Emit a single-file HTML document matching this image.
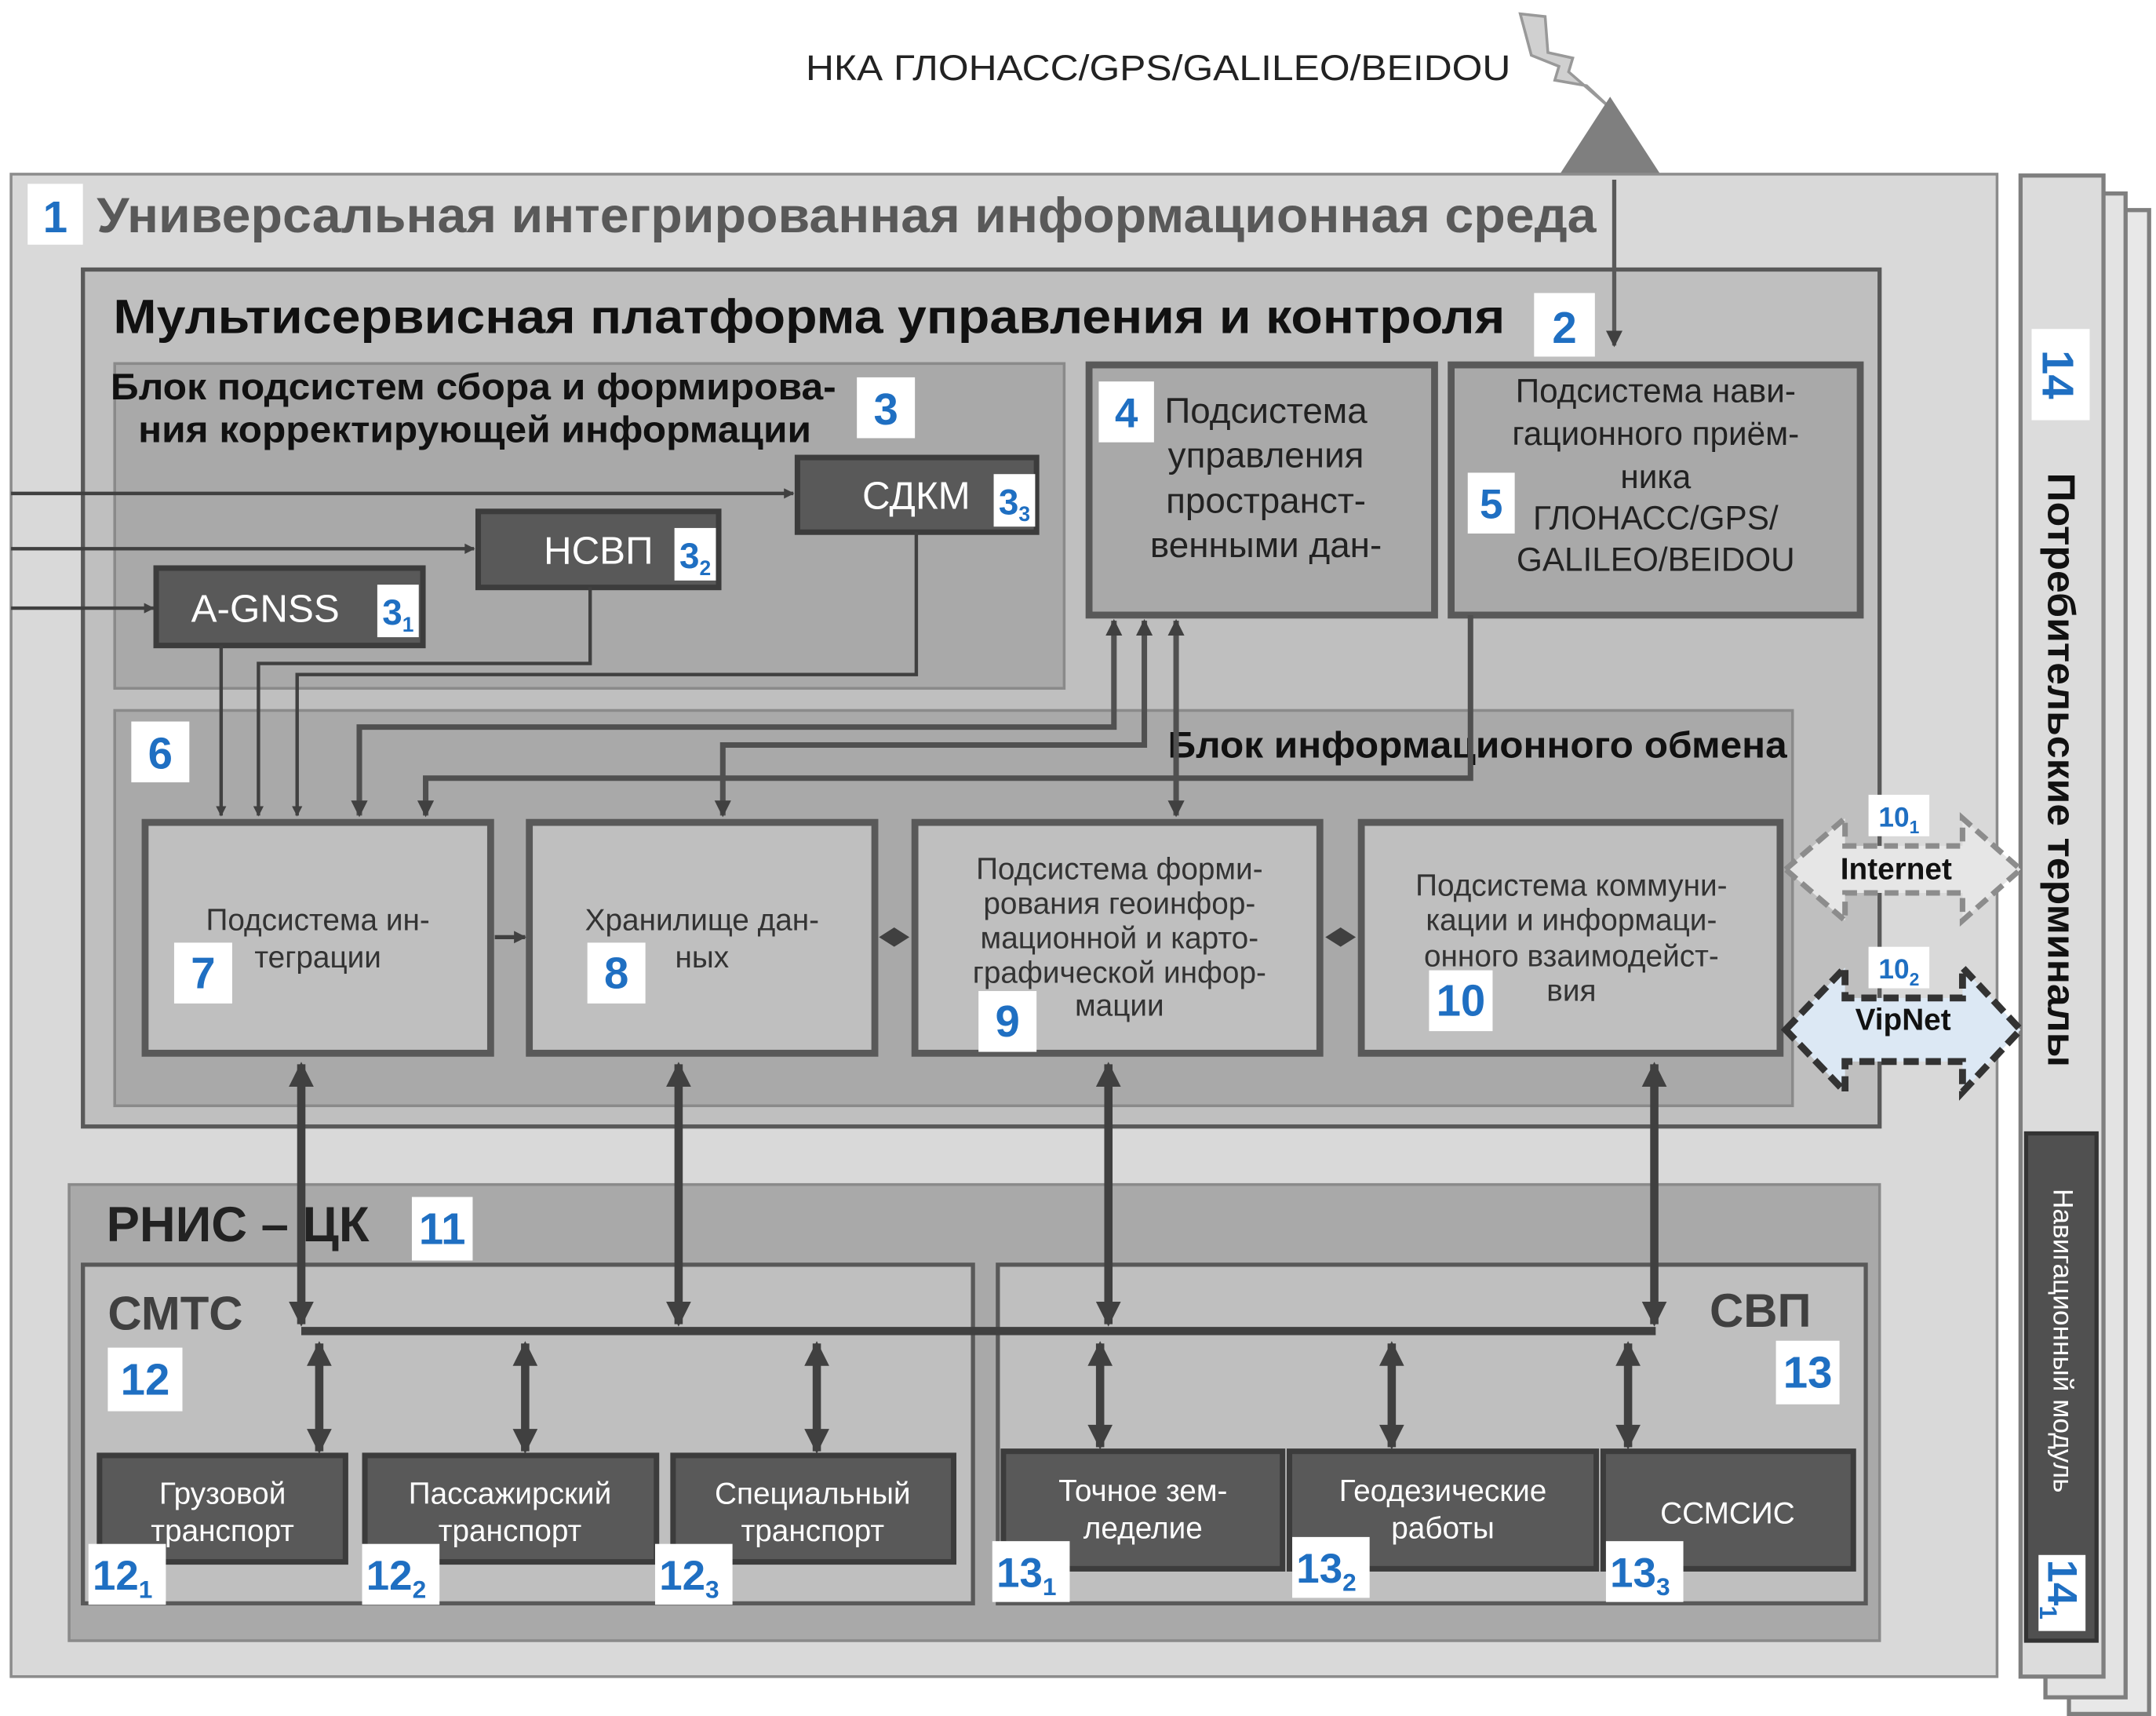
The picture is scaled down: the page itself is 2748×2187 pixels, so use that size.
<!DOCTYPE html>
<html><head><meta charset="utf-8"><style>
html,body{margin:0;padding:0;background:#fff;}
svg{display:block;}
text{font-family:"Liberation Sans","DejaVu Sans",sans-serif;}
</style></head><body>
<svg width="2748" height="2187" viewBox="0 0 1560 1241.5" preserveAspectRatio="none" xmlns="http://www.w3.org/2000/svg">
<defs>
<marker id="a" viewBox="0 0 10 10" refX="9" refY="5" markerWidth="4" markerHeight="5" orient="auto-start-reverse" markerUnits="strokeWidth"><path d="M0,0 L10,5 L0,10 z" fill="#404040"/></marker>
<marker id="b" viewBox="0 0 10 10" refX="9" refY="5" markerWidth="3.2" markerHeight="3" orient="auto-start-reverse" markerUnits="strokeWidth"><path d="M0,0 L10,5 L0,10 z" fill="#404040"/></marker>
</defs>
<!-- right stacked panels -->
<rect x="1497" y="152" width="58" height="1088" fill="#e8e8e8" stroke="#7f7f7f" stroke-width="3"/>
<rect x="1480" y="140" width="58" height="1088" fill="#e3e3e3" stroke="#7f7f7f" stroke-width="3"/>
<rect x="1462" y="127" width="60" height="1086" fill="#dcdcdc" stroke="#7f7f7f" stroke-width="3"/>
<rect x="1470" y="238" width="42" height="66" fill="#fff"/>
<text transform="translate(1478,271) rotate(90)" font-size="32" font-weight="bold" fill="#1f6fc2" text-anchor="middle">14</text>
<text transform="translate(1482,557) rotate(90)" font-size="28" font-weight="bold" fill="#111" text-anchor="middle" textLength="430" lengthAdjust="spacingAndGlyphs">Потребительские терминалы</text>
<rect x="1466" y="820" width="51" height="367" fill="#505050" stroke="#333" stroke-width="3"/>
<text transform="translate(1486,970) rotate(90)" font-size="20" fill="#fff" text-anchor="middle">Навигационный модуль</text>
<rect x="1475" y="1125" width="34" height="55" fill="#fff"/>
<text transform="translate(1482,1150) rotate(90)" font-size="30" font-weight="bold" fill="#1f6fc2" text-anchor="middle">14<tspan font-size="18" dy="6">1</tspan></text>

<!-- satellite -->
<text x="583" y="58" font-size="26" fill="#222" textLength="510" lengthAdjust="spacingAndGlyphs">НКА ГЛОНАСС/GPS/GALILEO/BEIDOU</text>
<polygon points="1100,10 1118,12 1120,38 1138,42 1135,52 1165,78 1148,62 1125,58 1128,48 1108,40" fill="#d0d0d0" stroke="#999" stroke-width="2"/>
<polygon points="1128,127 1165,70 1202,127" fill="#7f7f7f"/>

<!-- outer box 1 -->
<rect x="8" y="126" width="1437" height="1087" fill="#d9d9d9" stroke="#8c8c8c" stroke-width="2"/>
<rect x="20" y="133" width="40" height="44" fill="#fff"/>
<text x="40" y="168" font-size="32" font-weight="bold" fill="#1f6fc2" text-anchor="middle">1</text>
<text x="70" y="168" font-size="36" font-weight="bold" fill="#595959" textLength="1085" lengthAdjust="spacingAndGlyphs">Универсальная интегрированная информационная среда</text>

<!-- platform 2 -->
<rect x="60" y="195" width="1300" height="620" fill="#bfbfbf" stroke="#595959" stroke-width="3"/>
<text x="82" y="241" font-size="35" font-weight="bold" fill="#111" textLength="1007" lengthAdjust="spacingAndGlyphs">Мультисервисная платформа управления и контроля</text>
<rect x="1110" y="212" width="44" height="46" fill="#fff"/>
<text x="1132" y="248" font-size="32" font-weight="bold" fill="#1f6fc2" text-anchor="middle">2</text>
<line x1="1168" y1="130" x2="1168" y2="250" stroke="#595959" stroke-width="3" marker-end="url(#a)"/>

<!-- block 3 -->
<rect x="83" y="263" width="687" height="235" fill="#a9a9a9" stroke="#8a8a8a" stroke-width="2"/>
<text x="80" y="289" font-size="27" font-weight="bold" fill="#111" textLength="525" lengthAdjust="spacingAndGlyphs">Блок подсистем сбора и формирова-</text>
<text x="100" y="320" font-size="27" font-weight="bold" fill="#111" textLength="487" lengthAdjust="spacingAndGlyphs">ния корректирующей информации</text>
<rect x="620" y="273" width="42" height="44" fill="#fff"/>
<text x="641" y="307" font-size="32" font-weight="bold" fill="#1f6fc2" text-anchor="middle">3</text>

<!-- left inputs -->
<line x1="8" y1="357" x2="574" y2="357" stroke="#404040" stroke-width="2.5" marker-end="url(#b)"/>
<line x1="8" y1="397" x2="343" y2="397" stroke="#404040" stroke-width="2.5" marker-end="url(#b)"/>
<line x1="8" y1="440" x2="111" y2="440" stroke="#404040" stroke-width="2.5" marker-end="url(#b)"/>

<!-- SDKM, NSVP, AGNSS -->
<rect x="577" y="331" width="173" height="54" fill="#595959" stroke="#3c3c3c" stroke-width="4"/>
<text x="663" y="368" font-size="28" fill="#fff" text-anchor="middle">СДКМ</text>
<rect x="719" y="343" width="30" height="38" fill="#fff"/>
<text x="734" y="372" font-size="26" font-weight="bold" fill="#1f6fc2" text-anchor="middle">3<tspan font-size="15" dy="5">3</tspan></text>
<rect x="346" y="370" width="174" height="55" fill="#595959" stroke="#3c3c3c" stroke-width="4"/>
<text x="433" y="408" font-size="28" fill="#fff" text-anchor="middle">НСВП</text>
<rect x="488" y="382" width="30" height="38" fill="#fff"/>
<text x="503" y="411" font-size="26" font-weight="bold" fill="#1f6fc2" text-anchor="middle">3<tspan font-size="15" dy="5">2</tspan></text>
<rect x="113" y="411" width="193" height="56" fill="#595959" stroke="#3c3c3c" stroke-width="4"/>
<text x="192" y="450" font-size="28" fill="#fff" text-anchor="middle">A-GNSS</text>
<rect x="273" y="423" width="30" height="38" fill="#fff"/>
<text x="288" y="452" font-size="26" font-weight="bold" fill="#1f6fc2" text-anchor="middle">3<tspan font-size="15" dy="5">1</tspan></text>

<!-- box 4 -->
<rect x="788" y="264" width="250" height="181" fill="#a9a9a9" stroke="#595959" stroke-width="5"/>
<rect x="795" y="276" width="40" height="44" fill="#fff"/>
<text x="815" y="309" font-size="30" font-weight="bold" fill="#1f6fc2" text-anchor="middle">4</text>
<g font-size="26" fill="#222" text-anchor="middle">
<text x="916" y="306">Подсистема</text>
<text x="916" y="338">управления</text>
<text x="916" y="371">пространст-</text>
<text x="916" y="403">венными дан-</text>
</g>
<!-- box 5 -->
<rect x="1050" y="264" width="296" height="181" fill="#a9a9a9" stroke="#595959" stroke-width="5"/>
<rect x="1062" y="342" width="34" height="44" fill="#fff"/>
<text x="1079" y="375" font-size="30" font-weight="bold" fill="#1f6fc2" text-anchor="middle">5</text>
<g font-size="24" fill="#222" text-anchor="middle">
<text x="1198" y="291">Подсистема нави-</text>
<text x="1198" y="322">гационного приём-</text>
<text x="1198" y="353">ника</text>
<text x="1198" y="383">ГЛОНАСС/GPS/</text>
<text x="1198" y="413">GALILEO/BEIDOU</text>
</g>

<!-- block 6 -->
<rect x="83" y="514" width="1214" height="286" fill="#a9a9a9" stroke="#8a8a8a" stroke-width="2"/>
<rect x="95" y="522" width="42" height="44" fill="#fff"/>
<text x="116" y="556" font-size="32" font-weight="bold" fill="#1f6fc2" text-anchor="middle">6</text>
<text x="845" y="548" font-size="27" font-weight="bold" fill="#111" textLength="448" lengthAdjust="spacingAndGlyphs">Блок информационного обмена</text>

<!-- connectors block 3 -> 7 -->
<g fill="none" stroke="#404040" stroke-width="2.5">
<line x1="160" y1="467" x2="160" y2="590" marker-end="url(#b)"/>
<polyline points="427,425 427,480 187,480 187,590" marker-end="url(#b)"/>
<polyline points="663,385 663,488 215,488 215,590" marker-end="url(#b)"/>
</g>
<g fill="none" stroke="#505050" stroke-width="4">
<polyline points="260,590 260,526 806,526 806,449" marker-start="url(#b)" marker-end="url(#b)"/>
<polyline points="523,590 523,539 828,539 828,449" marker-start="url(#b)" marker-end="url(#b)"/>
<polyline points="1064,445 1064,563 308,563 308,590" marker-end="url(#b)"/>
<line x1="851" y1="449" x2="851" y2="590" marker-start="url(#b)" marker-end="url(#b)"/>
</g>

<!-- boxes 7-10 -->
<g fill="#bfbfbf" stroke="#595959" stroke-width="5">
<rect x="105" y="595" width="250" height="167"/>
<rect x="383" y="595" width="250" height="167"/>
<rect x="662" y="595" width="293" height="167"/>
<rect x="985" y="595" width="303" height="167"/>
</g>
<g font-size="22" fill="#333" text-anchor="middle">
<text x="230" y="673">Подсистема ин-</text>
<text x="230" y="700">теграции</text>
<text x="508" y="673">Хранилище дан-</text>
<text x="508" y="700">ных</text>
<text x="810" y="636">Подсистема форми-</text>
<text x="810" y="661">рования геоинфор-</text>
<text x="810" y="686">мационной и карто-</text>
<text x="810" y="711">графической инфор-</text>
<text x="810" y="735">мации</text>
<text x="1137" y="648">Подсистема коммуни-</text>
<text x="1137" y="673">кации и информаци-</text>
<text x="1137" y="699">онного взаимодейст-</text>
<text x="1137" y="724">вия</text>
</g>
<g font-size="32" font-weight="bold" fill="#1f6fc2" text-anchor="middle">
<rect x="126" y="682" width="42" height="44" fill="#fff"/><text x="147" y="715">7</text>
<rect x="425" y="682" width="42" height="44" fill="#fff"/><text x="446" y="715">8</text>
<rect x="708" y="717" width="42" height="44" fill="#fff"/><text x="729" y="750">9</text>
<rect x="1034" y="702" width="46" height="44" fill="#fff"/><text x="1057" y="735">10</text>
</g>
<line x1="358" y1="678" x2="380" y2="678" stroke="#404040" stroke-width="3" marker-end="url(#b)"/>
<polygon points="636,678 647,671 658,678 647,685" fill="#404040"/>
<polygon points="959,678 970,671 981,678 970,685" fill="#404040"/>

<!-- Internet / VipNet arrows -->
<polygon points="1292,629 1335,592 1335,612 1420,612 1420,592 1462,629 1420,666 1420,646 1335,646 1335,666" fill="#e6e6e6" stroke="#8c8c8c" stroke-width="4" stroke-dasharray="10,5"/>
<rect x="1352" y="575" width="44" height="30" fill="#fff"/>
<text x="1374" y="598" font-size="20" font-weight="bold" fill="#1f6fc2" text-anchor="middle">10<tspan font-size="13" dy="5">1</tspan></text>
<text x="1372" y="636" font-size="22" font-weight="bold" fill="#111" text-anchor="middle">Internet</text>
<polygon points="1292,745 1335,700 1335,722 1420,722 1420,700 1462,745 1420,790 1420,768 1335,768 1335,790" fill="#dce8f4" stroke="#333" stroke-width="5" stroke-dasharray="11,5"/>
<rect x="1352" y="685" width="44" height="30" fill="#fff"/>
<text x="1374" y="708" font-size="20" font-weight="bold" fill="#1f6fc2" text-anchor="middle">10<tspan font-size="13" dy="5">2</tspan></text>
<text x="1377" y="745" font-size="22" font-weight="bold" fill="#111" text-anchor="middle">VipNet</text>

<!-- RNIS 11 -->
<rect x="50" y="857" width="1310" height="330" fill="#a9a9a9" stroke="#8a8a8a" stroke-width="2"/>
<text x="77" y="898" font-size="36" font-weight="bold" fill="#222">РНИС – ЦК</text>
<rect x="298" y="866" width="44" height="46" fill="#fff"/>
<text x="320" y="900" font-size="32" font-weight="bold" fill="#1f6fc2" text-anchor="middle">11</text>
<rect x="60" y="915" width="644" height="245" fill="#bfbfbf" stroke="#595959" stroke-width="3"/>
<rect x="722" y="915" width="628" height="245" fill="#bfbfbf" stroke="#595959" stroke-width="3"/>
<text x="78" y="962" font-size="34" font-weight="bold" fill="#404040">СМТС</text>
<text x="1237" y="960" font-size="34" font-weight="bold" fill="#404040">СВП</text>
<g font-size="32" font-weight="bold" fill="#1f6fc2" text-anchor="middle">
<rect x="78" y="975" width="54" height="46" fill="#fff"/><text x="105" y="1009">12</text>
<rect x="1285" y="970" width="46" height="46" fill="#fff"/><text x="1308" y="1004">13</text>
</g>

<!-- bus -->
<g stroke="#404040" stroke-width="6" fill="none">
<line x1="218" y1="963" x2="1198" y2="963"/>
<line x1="218" y1="770" x2="218" y2="958" marker-start="url(#b)" marker-end="url(#b)"/>
<line x1="491" y1="770" x2="491" y2="958" marker-start="url(#b)" marker-end="url(#b)"/>
<line x1="802" y1="770" x2="802" y2="958" marker-start="url(#b)" marker-end="url(#b)"/>
<line x1="1197" y1="770" x2="1197" y2="958" marker-start="url(#b)" marker-end="url(#b)"/>
<line x1="231" y1="972" x2="231" y2="1050" marker-start="url(#b)" marker-end="url(#b)"/>
<line x1="380" y1="972" x2="380" y2="1050" marker-start="url(#b)" marker-end="url(#b)"/>
<line x1="591" y1="972" x2="591" y2="1050" marker-start="url(#b)" marker-end="url(#b)"/>
<line x1="796" y1="972" x2="796" y2="1047" marker-start="url(#b)" marker-end="url(#b)"/>
<line x1="1007" y1="972" x2="1007" y2="1047" marker-start="url(#b)" marker-end="url(#b)"/>
<line x1="1178" y1="972" x2="1178" y2="1047" marker-start="url(#b)" marker-end="url(#b)"/>
</g>

<!-- bottom boxes -->
<g fill="#595959" stroke="#3c3c3c" stroke-width="4">
<rect x="72" y="1053" width="178" height="77"/>
<rect x="264" y="1053" width="211" height="77"/>
<rect x="487" y="1053" width="203" height="77"/>
<rect x="726" y="1050" width="202" height="85"/>
<rect x="933" y="1050" width="222" height="85"/>
<rect x="1160" y="1050" width="181" height="85"/>
</g>
<g font-size="22" fill="#fff" text-anchor="middle">
<text x="161" y="1088">Грузовой</text><text x="161" y="1115">транспорт</text>
<text x="369" y="1088">Пассажирский</text><text x="369" y="1115">транспорт</text>
<text x="588" y="1088">Специальный</text><text x="588" y="1115">транспорт</text>
<text x="827" y="1086">Точное зем-</text><text x="827" y="1113">леделие</text>
<text x="1044" y="1086">Геодезические</text><text x="1044" y="1113">работы</text>
<text x="1250" y="1102">ССМСИС</text>
</g>
<g font-size="30" font-weight="bold" fill="#1f6fc2">
<rect x="64" y="1117" width="56" height="44" fill="#fff"/><text x="67" y="1150">12<tspan font-size="18" dy="6">1</tspan></text>
<rect x="262" y="1117" width="56" height="44" fill="#fff"/><text x="265" y="1150">12<tspan font-size="18" dy="6">2</tspan></text>
<rect x="474" y="1117" width="56" height="44" fill="#fff"/><text x="477" y="1150">12<tspan font-size="18" dy="6">3</tspan></text>
<rect x="718" y="1115" width="56" height="44" fill="#fff"/><text x="721" y="1148">13<tspan font-size="18" dy="6">1</tspan></text>
<rect x="935" y="1112" width="56" height="44" fill="#fff"/><text x="938" y="1145">13<tspan font-size="18" dy="6">2</tspan></text>
<rect x="1162" y="1115" width="56" height="44" fill="#fff"/><text x="1165" y="1148">13<tspan font-size="18" dy="6">3</tspan></text>
</g>
</svg>
</body></html>
